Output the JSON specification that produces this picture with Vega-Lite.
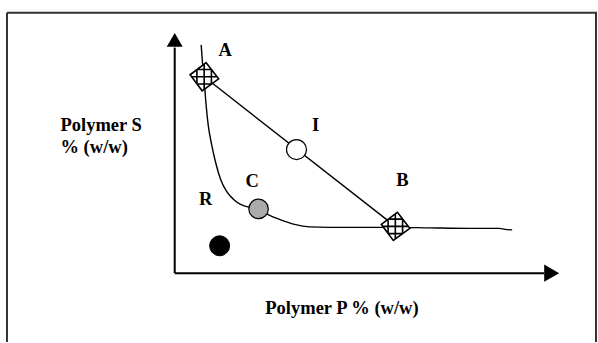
{
  "$schema": "https://vega.github.io/schema/vega-lite/v6.json",
  "width": 598,
  "height": 343,
  "autosize": {"type": "fit", "contains": "padding"},
  "padding": 0,
  "background": "white",
  "view": {"stroke": null},
  "config": {"text": {"font": "Liberation Serif", "fontWeight": "bold", "fontSize": 18.5, "color": "black"}},
  "datasets": {
    "frame": [
      {"part": "left", "x": -42, "y": -27.6, "x2": -42, "y2": 104.5},
      {"part": "top", "x": -42, "y": 104.5, "x2": 105.75, "y2": 104.5},
      {"part": "right", "x": 105.5, "y": -27.6, "x2": 105.5, "y2": 104.5}
    ],
    "axes": [
      {"axis": "S", "x": 0, "y": 0, "x2": 0, "y2": 90.5},
      {"axis": "P", "x": 0, "y": 0, "x2": 92.5, "y2": 0}
    ],
    "arrowUp": [{"axis": "S", "x": 0, "y": 93.6}],
    "arrowRight": [{"axis": "P", "x": 94.4, "y": 0}],
    "binodal": [
      {"i": 1, "x": 6.625, "y": 91.6},
      {"i": 2, "x": 7.0, "y": 83.6},
      {"i": 3, "x": 7.375, "y": 77.6},
      {"i": 4, "x": 7.75, "y": 69.6},
      {"i": 5, "x": 8.375, "y": 59.6},
      {"i": 6, "x": 9.25, "y": 51.6},
      {"i": 7, "x": 10.25, "y": 44.4},
      {"i": 8, "x": 11.5, "y": 37.6},
      {"i": 9, "x": 13.0, "y": 32.8},
      {"i": 10, "x": 14.75, "y": 29.6},
      {"i": 11, "x": 16.5, "y": 27.6},
      {"i": 12, "x": 18.75, "y": 26.4},
      {"i": 13, "x": 21.0, "y": 25.6},
      {"i": 14, "x": 23.25, "y": 23.6},
      {"i": 15, "x": 26.25, "y": 21.6},
      {"i": 16, "x": 30.0, "y": 19.6},
      {"i": 17, "x": 33.75, "y": 18.6},
      {"i": 18, "x": 38.75, "y": 18.4},
      {"i": 19, "x": 46.25, "y": 18.4},
      {"i": 20, "x": 55.25, "y": 18.4},
      {"i": 21, "x": 63.75, "y": 18.2},
      {"i": 22, "x": 73.75, "y": 18.0},
      {"i": 23, "x": 81.25, "y": 18.0},
      {"i": 24, "x": 82.75, "y": 17.6},
      {"i": 25, "x": 84.5, "y": 17.4}
    ],
    "tie": [{"x": 7.375, "y": 78.8, "x2": 55.25, "y2": 18.8}],
    "phases": [
      {"name": "A", "x": 7.375, "y": 78.8},
      {"name": "B", "x": 55.25, "y": 18.8}
    ],
    "mixI": [{"name": "I", "x": 30.5, "y": 49.6}],
    "mixC": [{"name": "C", "x": 21.0, "y": 25.8}],
    "mixR": [{"name": "R", "x": 11.25, "y": 11.0}],
    "labels": [
      {"text": "A", "x": 12.625, "y": 87.2},
      {"text": "I", "x": 35.25, "y": 57.0},
      {"text": "C", "x": 19.4, "y": 34.4},
      {"text": "B", "x": 57.0, "y": 34.8},
      {"text": "R", "x": 7.75, "y": 27.2},
      {"text": "Polymer P % (w/w)", "x": 41.875, "y": -16.2}
    ],
    "ytitle": [
      {"text": "Polymer S", "x": -28.6, "y": 57.2},
      {"text": "% (w/w)", "x": -28.6, "y": 48.2}
    ]
  },
  "encoding": {
    "x": {"field": "x", "type": "quantitative", "axis": null, "scale": {"domain": [-43.75, 105.75], "nice": false, "zero": false}},
    "y": {"field": "y", "type": "quantitative", "axis": null, "scale": {"domain": [-27.6, 109.6], "nice": false, "zero": false}}
  },
  "layer": [
    {
      "data": {"name": "frame"},
      "mark": {"type": "rule", "color": "#333333", "strokeWidth": 2},
      "encoding": {"x2": {"field": "x2"}, "y2": {"field": "y2"}}
    },
    {
      "data": {"name": "axes"},
      "mark": {"type": "rule", "color": "black", "strokeWidth": 2},
      "encoding": {"x2": {"field": "x2"}, "y2": {"field": "y2"}}
    },
    {
      "data": {"name": "arrowUp"},
      "mark": {"type": "point", "shape": "triangle-up", "size": 256, "filled": true, "fill": "black", "stroke": null, "opacity": 1}
    },
    {
      "data": {"name": "arrowRight"},
      "mark": {"type": "point", "shape": "triangle-right", "size": 300, "filled": true, "fill": "black", "stroke": null, "opacity": 1}
    },
    {
      "data": {"name": "binodal"},
      "mark": {"type": "line", "color": "black", "strokeWidth": 1.4, "interpolate": "monotone"},
      "encoding": {"order": {"field": "i", "type": "quantitative"}}
    },
    {
      "data": {"name": "tie"},
      "mark": {"type": "rule", "color": "black", "strokeWidth": 1.4},
      "encoding": {"x2": {"field": "x2"}, "y2": {"field": "y2"}}
    },
    {
      "data": {"name": "phases"},
      "mark": {"type": "point", "shape": "M0.14,-0.97L1,0.14L-0.14,0.97L-0.97,-0.14Z M-0.5,-0.49L-0.5,0.49 M0,-0.865L0,0.868 M0.5,-0.505L0.5,0.504 M-0.49,-0.5L0.504,-0.5 M-0.865,0L0.89,0 M-0.49,0.5L0.505,0.5", "size": 841, "fill": "white", "stroke": "black", "strokeWidth": 1.6, "opacity": 1}
    },
    {
      "data": {"name": "mixI"},
      "mark": {"type": "point", "shape": "circle", "size": 400, "fill": "white", "stroke": "black", "strokeWidth": 1.2, "opacity": 1}
    },
    {
      "data": {"name": "mixC"},
      "mark": {"type": "point", "shape": "circle", "size": 380, "fill": "#ababab", "stroke": "black", "strokeWidth": 1.2, "opacity": 1}
    },
    {
      "data": {"name": "mixR"},
      "mark": {"type": "point", "shape": "circle", "size": 400, "fill": "black", "stroke": "black", "strokeWidth": 1, "opacity": 1}
    },
    {
      "data": {"name": "labels"},
      "mark": {"type": "text", "align": "center", "baseline": "alphabetic"},
      "encoding": {"text": {"field": "text"}}
    },
    {
      "data": {"name": "ytitle"},
      "mark": {"type": "text", "align": "left", "baseline": "alphabetic"},
      "encoding": {"text": {"field": "text"}}
    }
  ]
}
